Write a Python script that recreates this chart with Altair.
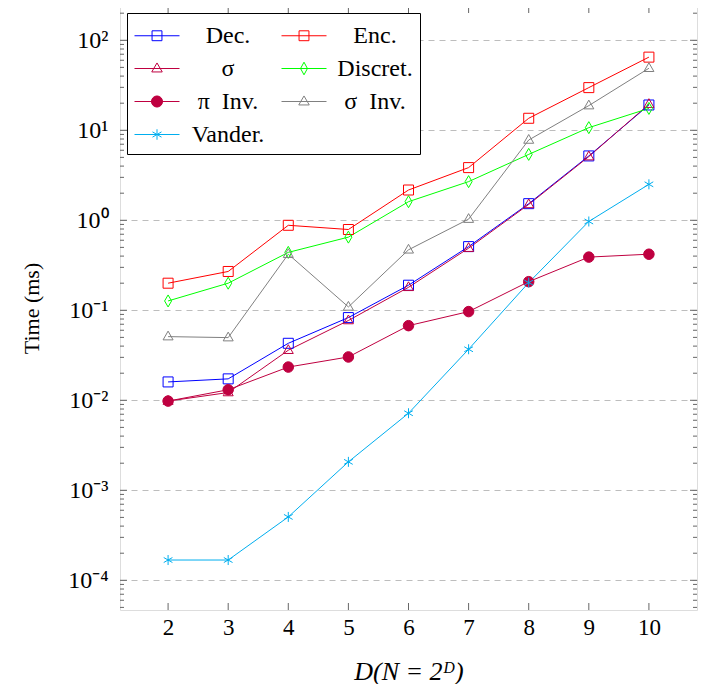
import altair as alt
import pandas as pd

# ---------------- data ----------------
D = [2, 3, 4, 5, 6, 7, 8, 9, 10]
dec = [0.016, 0.0173, 0.043, 0.083, 0.19, 0.51, 1.53, 5.19, 19.1]
enc = [0.2, 0.27, 0.88, 0.79, 2.17, 3.85, 13.6, 29.8, 65.0]
sigma = [0.0098, 0.0122, 0.036, 0.077, 0.18, 0.49, 1.5, 5.1, 19.5]
discret = [0.127, 0.2, 0.44, 0.65, 1.61, 2.69, 5.4, 10.7, 17.5]
pi_inv = [0.0098, 0.0131, 0.0234, 0.0303, 0.0675, 0.0967, 0.208, 0.39, 0.42]
sigma_inv = [0.051, 0.0497, 0.42, 0.109, 0.47, 1.03, 7.8, 18.8, 48.9]
vander = [0.000168, 0.000168, 0.000506, 0.00207, 0.00718, 0.0369, 0.203, 0.97, 2.51]

names = ["Dec.", "Enc.", "σ", "Discret.", "π\u2002Inv.", "σ\u2002Inv.", "Vander."]
series = [dec, enc, sigma, discret, pi_inv, sigma_inv, vander]

y_major = [1e-4, 1e-3, 1e-2, 1e-1, 1e0, 1e1, 1e2]
y_minor = [m * 10.0 ** e for e in range(-5, 3) for m in range(2, 10)
           if 4.7e-5 < m * 10.0 ** e < 238]

# ---------------- styles ----------------
colors = ["#0000FF", "#FF0000", "#BF0040", "#00FF00", "#BF0040", "#808080", "#00AEEF"]
fills = ["transparent", "transparent", "transparent", "transparent", "#BF0040",
         "transparent", "transparent"]
SQ = "M-1,-1H1V1H-1Z"
TRI = "M0,-1.1L1,0.65L-1,0.65Z"
DIA = "M0,-1.2L0.7,0L0,1.2L-0.7,0Z"
CIR = "M-1.05,0A1.05,1.05 0 1,0 1.05,0A1.05,1.05 0 1,0 -1.05,0Z"
AST = "M0,-1V1M-0.87,-0.5L0.87,0.5M-0.87,0.5L0.87,-0.5"
marker_shapes = [SQ, SQ, TRI, DIA, CIR, TRI, AST]

L = "M-1,0H2"
LSQ = L + "M0.17,-0.33H0.83V0.33H0.17Z"
LTRI = L + "M0.5,-0.37L0.85,0.23L0.15,0.23Z"
LDIA = L + "M0.5,-0.42L0.73,0L0.5,0.42L0.27,0Z"
LCIR = L + "M0.13,0A0.37,0.37 0 1,0 0.87,0A0.37,0.37 0 1,0 0.13,0Z"
LAST = L + "M0.5,-0.35V0.35M0.2,-0.175L0.8,0.175M0.2,0.175L0.8,-0.175"
leg_shapes = [LSQ, LSQ, LTRI, LDIA, LCIR, LTRI, LAST]

# legend is laid out column by column: reorder so it reads row by row
leg_order = [0, 2, 4, 6, 1, 3, 5]
leg_names = [names[i] for i in leg_order]
leg_colors = [colors[i] for i in leg_order]
leg_fills = [fills[i] for i in leg_order]
leg_shapes_o = [leg_shapes[i] for i in leg_order]

FONT = "Liberation Serif, Times New Roman, serif"
W, H = 577, 604

rows = []
for n, vals in zip(names, series):
    for d, v in zip(D, vals):
        rows.append({"Series": n, "D": d, "Time": v})
df = pd.DataFrame(rows)

xscale = alt.Scale(domain=[1.2, 10.8], nice=False, zero=False)
yscale = alt.Scale(type="log", domain=[10 ** -4.33, 10 ** 2.381], nice=False)

x_enc = alt.X("D:Q", scale=xscale,
              axis=alt.Axis(values=D, title="D(N = 2ᴰ)", titleFontStyle="italic",
                            titleFontSize=26, titlePadding=19, labelFontSize=23,
                            labelPadding=6, grid=False, ticks=False, domain=False,
                            labelFont=FONT, titleFont=FONT, titleFontWeight="normal",
                            labelColor="black", titleColor="black"))
y_enc = alt.Y("Time:Q", scale=yscale,
              axis=alt.Axis(values=y_major, title="Time (ms)", titleFontSize=22,
                            titlePadding=24, labelFontSize=24, labelPadding=12,
                            labelExpr="'10' + (round(log(datum.value)/LN10) < 0 ? '⁻' : '') + ['⁰','¹','²','³','⁴'][abs(round(log(datum.value)/LN10))]",
                            grid=True, gridDash=[6, 5], gridColor="#bdbdbd",
                            gridWidth=1, ticks=False, domain=False,
                            labelFont=FONT, titleFont=FONT, titleFontWeight="normal",
                            labelColor="black", titleColor="black"))

col_scale = alt.Scale(domain=names, range=colors)

lines = alt.Chart(df).mark_line(strokeWidth=1, clip=True).encode(
    x=x_enc, y=y_enc,
    color=alt.Color("Series:N", scale=col_scale, legend=None),
    detail="Series:N",
)

points = alt.Chart(df).mark_point(filled=False, size=100, strokeWidth=1, opacity=1).encode(
    x=x_enc, y=y_enc,
    color=alt.Color("Series:N", scale=col_scale, legend=None),
    shape=alt.Shape("Series:N", scale=alt.Scale(domain=names, range=marker_shapes), legend=None),
    fill=alt.Fill("Series:N", scale=alt.Scale(domain=names, range=fills), legend=None),
)

legend = alt.Chart(df).transform_filter("datum.D < 0").mark_point(
    filled=False, size=900, strokeWidth=1, opacity=1).encode(
    x=x_enc, y=y_enc,
    color=alt.Color("Series:N", scale=alt.Scale(domain=leg_names, range=leg_colors),
                    legend=alt.Legend(title=None, orient="top-left", columns=2,
                                      symbolSize=900, symbolStrokeWidth=1,
                                      labelFont=FONT, labelFontSize=24, labelColor="black",
                                      labelAlign="center", labelOffset=63,
                                      fillColor="white", strokeColor="black",
                                      padding=7, offset=7, rowPadding=5,
                                      columnPadding=14, labelLimit=300)),
    shape=alt.Shape("Series:N", scale=alt.Scale(domain=leg_names, range=leg_shapes_o)),
    fill=alt.Fill("Series:N", scale=alt.Scale(domain=leg_names, range=leg_fills)),
)

tdf = pd.DataFrame({"D": D})
ymaj = pd.DataFrame({"Time": y_major})
ymin = pd.DataFrame({"Time": y_minor})
TC = "#666666"

xt_top = alt.Chart(tdf).mark_rule(color=TC, strokeWidth=1).encode(
    x=x_enc, y=alt.value(0), y2=alt.value(7))
xt_bot = alt.Chart(tdf).mark_rule(color=TC, strokeWidth=1).encode(
    x=x_enc, y=alt.value(H - 7), y2=alt.value(H))
yl_maj = alt.Chart(ymaj).mark_rule(color=TC, strokeWidth=1).encode(
    y=y_enc, x=alt.value(0), x2=alt.value(7))
yr_maj = alt.Chart(ymaj).mark_rule(color=TC, strokeWidth=1).encode(
    y=y_enc, x=alt.value(W - 7), x2=alt.value(W))
yl_min = alt.Chart(ymin).mark_rule(color=TC, strokeWidth=1).encode(
    y=y_enc, x=alt.value(0), x2=alt.value(4))
yr_min = alt.Chart(ymin).mark_rule(color=TC, strokeWidth=1).encode(
    y=y_enc, x=alt.value(W - 4), x2=alt.value(W))

chart = alt.layer(
    xt_top, xt_bot, yl_maj, yr_maj, yl_min, yr_min, lines, points, legend
).resolve_scale(
    color="independent", shape="independent", fill="independent"
).properties(
    width=W, height=H,
    padding={"left": 12, "top": -3, "right": 3, "bottom": 0},
).configure_view(
    stroke="#333333", strokeWidth=1
).configure(background="white", font=FONT)

chart.save("out.html", embed_options={"renderer": "svg", "actions": False})
